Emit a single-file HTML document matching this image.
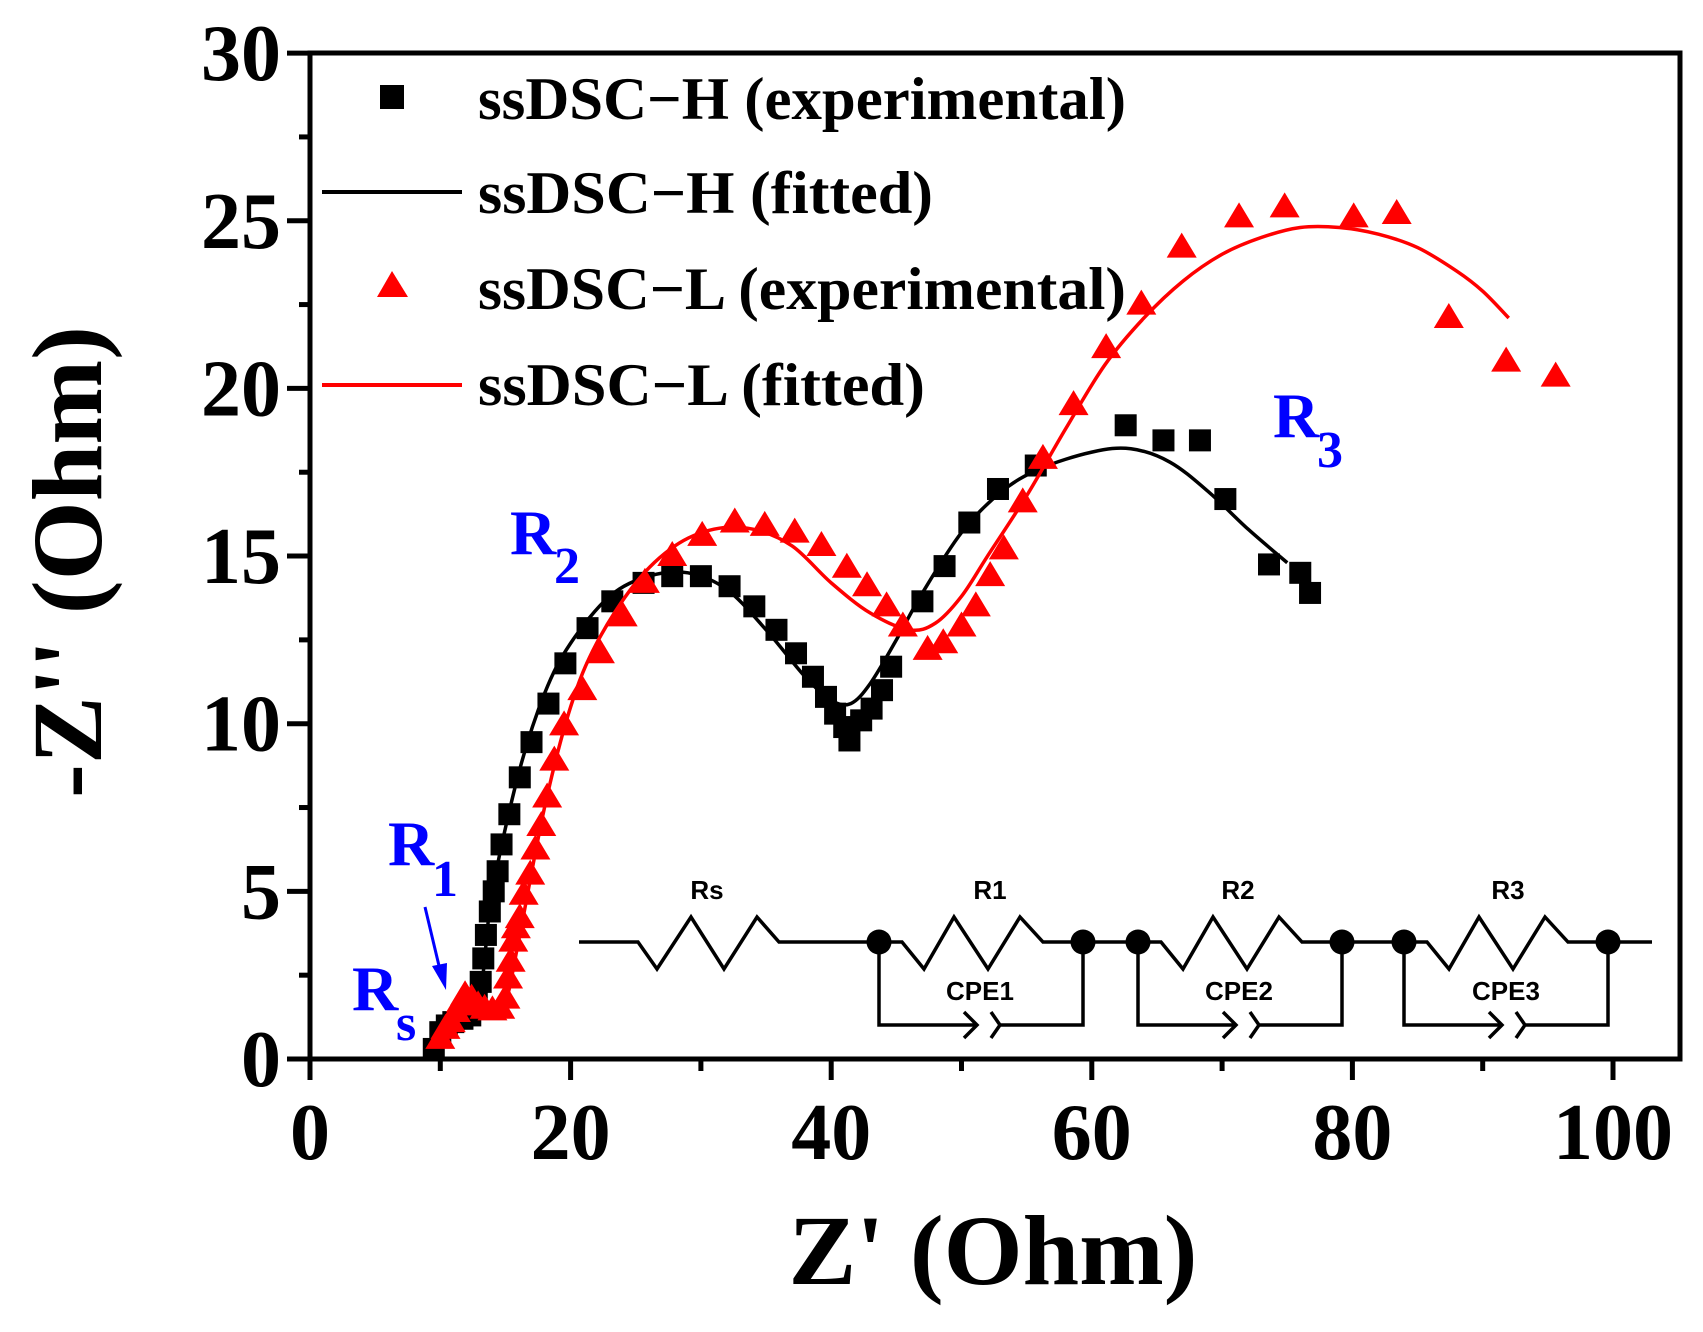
<!DOCTYPE html>
<html><head><meta charset="utf-8"><style>
html,body{margin:0;padding:0;background:#fff;}
svg{display:block;}
text{font-family:"Liberation Serif",serif;font-weight:bold;}
.cir text{font-family:"Liberation Sans",sans-serif;font-weight:bold;font-size:26px;}
</style></head><body>
<svg id="s" xmlns="http://www.w3.org/2000/svg" width="1703" height="1332" viewBox="0 0 1703 1332">
<rect width="1703" height="1332" fill="#fff"/>
<g id="ticks" stroke="#000" stroke-width="5" fill="none"></g>
<rect x="310" y="53" width="1370" height="1006" fill="none" stroke="#000" stroke-width="5"/>
<g id="data"></g>
<g font-size="80" fill="#000" text-anchor="end" id="ylab"></g>
<g font-size="80" fill="#000" text-anchor="middle" id="xlab"></g>
<text x="993" y="1284" font-size="100" text-anchor="middle" textLength="409" lengthAdjust="spacingAndGlyphs">Z' (Ohm)</text>
<text transform="translate(101,562) rotate(-90)" font-size="100" text-anchor="middle" textLength="472" lengthAdjust="spacingAndGlyphs">-Z'' (Ohm)</text>
<rect x="380" y="85" width="24" height="24" fill="#000"/>
<line x1="322" y1="192" x2="462" y2="192" stroke="#000" stroke-width="4"/>
<polygon points="377,297 392,271 408,297" fill="#f00"/>
<line x1="322" y1="385" x2="462" y2="385" stroke="#f00" stroke-width="4"/>
<g font-size="60" fill="#000">
<text x="478" y="119" textLength="648" lengthAdjust="spacingAndGlyphs">ssDSC−H (experimental)</text>
<text x="478" y="213" textLength="455" lengthAdjust="spacingAndGlyphs">ssDSC−H (fitted)</text>
<text x="478" y="309" textLength="648" lengthAdjust="spacingAndGlyphs">ssDSC−L (experimental)</text>
<text x="478" y="405" textLength="447" lengthAdjust="spacingAndGlyphs">ssDSC−L (fitted)</text>
</g>
<g fill="#0000ff">
<text x="352" y="1010" font-size="64">R</text><text x="396" y="1040" font-size="52">s</text>
<text x="388" y="865" font-size="64">R</text><text x="432" y="896" font-size="52">1</text>
<text x="510" y="554" font-size="64">R</text><text x="554" y="583" font-size="52">2</text>
<text x="1273" y="437" font-size="64">R</text><text x="1317" y="467" font-size="52">3</text>
</g>
<line x1="425" y1="907" x2="440" y2="970" stroke="#0000ff" stroke-width="3"/>
<polygon points="446,990 432,966 447,963" fill="#0000ff"/>
<g id="circ" stroke="#000" stroke-width="3.5" fill="none" stroke-linejoin="miter"></g>
<g class="cir" fill="#000" text-anchor="middle">
<text x="707" y="899">Rs</text>
<text x="990" y="899">R1</text>
<text x="1238" y="899">R2</text>
<text x="1508" y="899">R3</text>
<text x="980" y="1000">CPE1</text>
<text x="1239" y="1000">CPE2</text>
<text x="1506" y="1000">CPE3</text>
</g>
</svg>
<script>
var NS="http://www.w3.org/2000/svg";
function el(p,t,a){var e=document.createElementNS(NS,t);for(var k in a)e.setAttribute(k,a[k]);document.getElementById(p).appendChild(e);return e;}
function X(x){return 310+x*13.03;} function Y(y){return 1059-y*33.53;}
for(var i=0;i<=100;i+=10){var maj=i%20==0;el('ticks','line',{x1:X(i),y1:1059,x2:X(i),y2:1059+(maj?21:12)});}
for(var j=0;j<=30;j+=2.5){var maj=j%5==0;el('ticks','line',{x1:310,y1:Y(j),x2:310-(maj?23:11),y2:Y(j)});}
for(var j=0;j<=30;j+=5){var t=el('ylab','text',{x:281,y:Y(j)+27});t.textContent=j;}
for(var i=0;i<=100;i+=20){var t=el('xlab','text',{x:X(i),y:1159});t.textContent=i;}
var fH=[[9.5,0],[10.5,0.8],[12,1.3],[12.8,1.6],[13.3,2.6],[14,5],[16,8.5],[18,10.9],[20,12.4],[23,13.8],[26,14.4],[29,14.5],[32,14],[35,12.8],[38,11.4],[40,10.7],[41.5,10.6],[43,11.2],[45,12.5],[47,13.9],[50,15.7],[53,16.9],[56,17.6],[60,18.1],[63,18.2],[66,17.8],[69,16.9],[72,15.8],[75,14.8]];
var fL=[[10,0.5],[11,1.1],[12,1.6],[13,1.5],[14,1.5],[15,1.7],[16,3.5],[18,7.5],[20,10.5],[22,12.4],[25,14.2],[28,15.3],[31,15.8],[34,15.8],[37,15.3],[40,14.2],[43,13.3],[46,12.8],[48,13],[50,13.8],[52,15],[55,16.8],[58,18.8],[61,20.7],[64,22.1],[67,23.2],[70,24],[73,24.5],[76,24.8],[79,24.8],[82,24.6],[85,24.2],[88,23.5],[90,22.9],[92,22.1]];
function path(pts){var p=pts.map(function(a){return[X(a[0]),Y(a[1])]});var d="M"+p[0][0]+","+p[0][1];
for(var i=0;i<p.length-1;i++){var p0=p[i-1]||p[i],p1=p[i],p2=p[i+1],p3=p[i+2]||p2;
d+=" C"+(p1[0]+(p2[0]-p0[0])/6)+","+(p1[1]+(p2[1]-p0[1])/6)+" "+(p2[0]-(p3[0]-p1[0])/6)+","+(p2[1]-(p3[1]-p1[1])/6)+" "+p2[0]+","+p2[1];}return d;}
var bH=[[9.5,0.3],[10,0.8],[10.5,1.0],[11,1.1],[11.7,1.2],[12.3,1.3],[12.8,1.7],[13.1,2.3],[13.3,3],[13.5,3.7],[13.8,4.4],[14.1,5.0],[14.4,5.6],[14.7,6.4],[15.3,7.3],[16.1,8.4],[17,9.45],[18.3,10.6],[19.6,11.8],[21.3,12.85],[23.2,13.65],[25.6,14.2],[27.8,14.4],[30,14.4],[32.2,14.1],[34.1,13.5],[35.8,12.8],[37.3,12.1],[38.6,11.4],[39.6,10.8],[40.3,10.3],[41,9.9],[41.4,9.5],[42.3,10.1],[43.1,10.45],[43.9,11],[44.6,11.7],[47,13.65],[48.7,14.7],[50.6,16],[52.8,17],[55.7,17.7],[62.6,18.9],[65.5,18.45],[68.3,18.45],[70.25,16.7],[73.6,14.75],[76,14.5],[76.75,13.9]];
var bL=[[10,0.6],[10.4,0.9],[10.8,1.1],[11.2,1.4],[11.6,1.7],[11.9,1.9],[12.4,1.8],[12.9,1.6],[13.4,1.5],[14,1.45],[14.6,1.5],[15.0,1.8],[15.2,2.4],[15.4,2.9],[15.6,3.5],[15.8,3.9],[16.1,4.2],[16.4,4.9],[16.9,5.5],[17.3,6.25],[17.75,6.95],[18.2,7.8],[18.75,8.9],[19.5,9.95],[20.9,11],[22.25,12.1],[24,13.2],[25.7,14.2],[27.8,15],[30.1,15.6],[32.6,16],[34.9,15.9],[37.2,15.7],[39.25,15.3],[41.2,14.65],[42.75,14.1],[44.25,13.5],[45.5,12.9],[47.4,12.2],[48.6,12.4],[50,12.9],[51.1,13.5],[52.2,14.4],[53.25,15.2],[54.7,16.6],[56.25,17.9],[58.6,19.5],[61.1,21.2],[63.8,22.5],[66.9,24.2],[71.3,25.1],[74.8,25.4],[80.1,25.1],[83.4,25.2],[87.4,22.1],[91.8,20.8],[95.6,20.35]];
bH.forEach(function(a){el('data','rect',{x:X(a[0])-11,y:Y(a[1])-11,width:22,height:22,fill:'#000'});});
el('data','path',{d:path(fH),stroke:'#000','stroke-width':3.5,fill:'none'});
bL.forEach(function(a){var x=X(a[0]),y=Y(a[1]);el('data','polygon',{points:(x-15)+","+(y+10)+" "+x+","+(y-15)+" "+(x+15)+","+(y+10),fill:'#f00'});});
el('data','path',{d:path(fL),stroke:'#f00','stroke-width':3.5,fill:'none'});
var my=942;
el('circ','path',{d:"M579,"+my+" L638,"+my+" L657,969 L691,917 L724,969 L757,917 L779,"+my+" L879,"+my});
var nodes=[879,1138,1404];
nodes.forEach(function(n){var m=n+204;
var z="M"+n+","+my+" L"+(n+23)+","+my+" L"+(n+45)+",969 L"+(n+75)+",917 L"+(n+109)+",969 L"+(n+141)+",917 L"+(n+164)+","+my+" L"+m+","+my;
el('circ','path',{d:z});
var c=(n+m)/2;
el('circ','path',{d:"M"+n+","+my+" L"+n+",1025 L"+(c-4)+",1025 M"+(c-17)+",1012 L"+(c-4)+",1025 L"+(c-17)+",1038 M"+(c+10)+",1012 L"+(c+19)+",1025 L"+(c+10)+",1038 M"+(c+19)+",1025 L"+m+",1025 L"+m+","+my});
el('circ','circle',{cx:n,cy:my,r:12.5,fill:'#000',stroke:'none'});
el('circ','circle',{cx:m,cy:my,r:12.5,fill:'#000',stroke:'none'});
});
el('circ','path',{d:"M1083,"+my+" L1138,"+my+" M1342,"+my+" L1404,"+my+" M1608,"+my+" L1652,"+my});
</script>
</body></html>
